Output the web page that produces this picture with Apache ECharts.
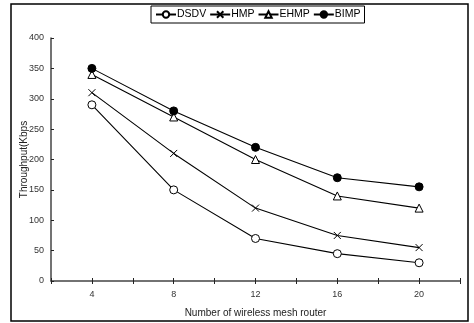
<!DOCTYPE html>
<html>
<head>
<meta charset="utf-8">
<script src="https://cdn.jsdelivr.net/npm/echarts@6/dist/echarts.min.js"></script>
<style>
  html, body { margin: 0; padding: 0; background: #fff; }
  #chart { width: 474px; height: 323px; }
</style>
</head>
<body>
<div id="chart"></div>
<script>
const routers = [4, 8, 12, 16, 20];
const dsdv = [290, 150, 70, 45, 30];
const hmp = [310, 210, 120, 75, 55];
const ehmp = [340, 270, 200, 140, 120];
const bimp = [350, 280, 220, 170, 155];

const pairs = vals => routers.map((r, i) => [r, vals[i]]);
const cross = 'path://M0,0L10,10M10,0L0,10';

const font = 'Arial, "Liberation Sans", sans-serif';

function line(name, vals, symbol, fill) {
  return {
    name,
    type: 'line',
    data: pairs(vals),
    symbol,
    symbolSize: symbol === cross ? 7 : 8,
    showAllSymbol: true,
    lineStyle: { color: '#000', width: 1.1 },
    itemStyle: { color: fill, borderColor: '#000', borderWidth: 1 },
    emphasis: { disabled: true }
  };
}

const chart = echarts.init(document.getElementById('chart'), null, { renderer: 'canvas' });

chart.setOption({
  animation: false,
  backgroundColor: '#fff',
  textStyle: { fontFamily: font },
  graphic: [{
    type: 'rect',
    shape: { x: 11, y: 4, width: 457, height: 317 },
    style: { fill: 'none', stroke: '#000', lineWidth: 1.5 },
    z: -1
  }],
  legend: {
    top: 6,
    left: 151,
    itemWidth: 20,
    itemHeight: 8,
    itemGap: 3,
    padding: [3, 4],
    borderColor: '#000',
    borderWidth: 1,
    textStyle: { fontSize: 10.5, color: '#000', fontFamily: font, padding: [0, 0, 0, -4] },
    data: ['DSDV', 'HMP', 'EHMP', 'BIMP']
  },
  grid: { left: 51, right: 14, top: 38, bottom: 41 },
  xAxis: [{
    type: 'value',
    min: 2,
    max: 22,
    interval: 2,
    name: 'Number of wireless mesh router',
    nameLocation: 'middle',
    nameGap: 27,
    nameMoveOverlap: false,
    nameTextStyle: { fontSize: 10, color: '#222' },
    axisLine: { lineStyle: { color: '#444', width: 1.5 } },
    axisTick: { length: 3, lineStyle: { color: '#222' } },
    axisLabel: {
      fontSize: 9,
      color: '#333',
      margin: 9,
      formatter: v => (v % 4 === 0 && v >= 4 && v <= 20 ? String(v) : '')
    },
    splitLine: { show: false }
  }, {
    type: 'value',
    position: 'bottom',
    min: 2,
    max: 22,
    interval: 2,
    axisLine: { show: false },
    axisTick: { inside: true, length: 3, lineStyle: { color: '#222' } },
    axisLabel: { show: false },
    splitLine: { show: false }
  }],
  yAxis: {
    type: 'value',
    min: 0,
    max: 400,
    interval: 50,
    name: 'Throughput(Kbps',
    nameLocation: 'middle',
    nameGap: 22,
    nameMoveOverlap: false,
    nameTextStyle: { fontSize: 10, color: '#222' },
    axisLine: { show: true, lineStyle: { color: '#444', width: 1.5 } },
    axisTick: { show: true, inside: true, length: 3, lineStyle: { color: '#222' } },
    axisLabel: { fontSize: 9, color: '#333', margin: 7 },
    splitLine: { show: false }
  },
  series: [
    line('DSDV', dsdv, 'circle', '#fff'),
    line('HMP', hmp, cross, '#fff'),
    line('EHMP', ehmp, 'triangle', '#fff'),
    line('BIMP', bimp, 'circle', '#000')
  ]
});
</script>
</body>
</html>
